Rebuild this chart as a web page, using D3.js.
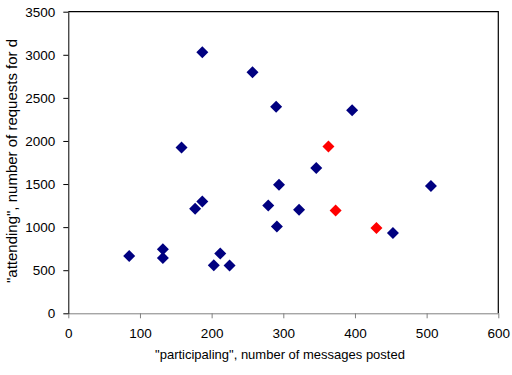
<!DOCTYPE html>
<html><head><meta charset="utf-8">
<script src="https://cdn.jsdelivr.net/npm/d3@7"></script>
<style>body{margin:0;background:#fff}svg{display:block}text{font-family:"Liberation Sans",Arial,sans-serif}</style>
</head><body><svg id="c" width="512" height="375"></svg>
<script>
const blueX = [85,132,132,177,187,203,212,225,187,158,257,290,396,346,294,506,279,322,291,453];
const blueY = [665,742,642,1212,1297,558,693,554,3029,1924,2798,2397,2356,1686,1493,1478,1250,1201,1008,931];
const redX = [363,373,430];
const redY = [1935,1193,989];
const xTicks = [0,100,200,300,400,500,600];
const yTicks = [0,500,1000,1500,2000,2500,3000,3500];
const xTitle = '"participaling", number of messages posted';
const yTitle = '"attending", number of requests for d';

const svg = d3.select("#c");
const x = d3.scaleLinear().domain([0,600]).range([68.3,498.3]);
const y = d3.scaleLinear().domain([0,3500]).range([313.3,11.7]);

// frame top/right
svg.append("path").attr("d",`M${x(0)},${y(3500)}H${x(600)}V${y(0)}`).attr("fill","none").attr("stroke","#000").attr("stroke-width",1.2);

const gx = svg.append("g").attr("transform",`translate(0,${y(0)})`)
  .call(d3.axisBottom(x).tickValues(xTicks).tickFormat(d3.format("d")).tickSize(5).tickPadding(10).tickSizeOuter(0));
gx.select(".domain").attr("stroke","#808080");
gx.selectAll(".tick line").attr("stroke","#808080");
gx.selectAll("text").attr("font-size",13.5).attr("fill","#000");

const gy = svg.append("g").attr("transform",`translate(${x(0)},0)`)
  .call(d3.axisLeft(y).tickValues(yTicks).tickFormat(d3.format("d")).tickSize(5).tickPadding(8).tickSizeOuter(0));
gy.select(".domain").attr("stroke","#000");
gy.selectAll(".tick line").attr("stroke","#000");
gy.selectAll("text").attr("font-size",13.5).attr("fill","#000");

svg.append("text").attr("x",280).attr("y",359).attr("text-anchor","middle").attr("font-size",13).text(xTitle);
svg.append("text").attr("transform","translate(17,283) rotate(-90)").attr("text-anchor","start").attr("font-size",15).text(yTitle);

const diamond = "M0,-6L6,0L0,6L-6,0Z";
svg.append("g").selectAll("path").data(d3.range(blueX.length)).join("path")
  .attr("d",diamond).attr("fill","#000080")
  .attr("transform",i=>`translate(${x(blueX[i])},${y(blueY[i])})`);
svg.append("g").selectAll("path").data(d3.range(redX.length)).join("path")
  .attr("d",diamond).attr("fill","#ff0000")
  .attr("transform",i=>`translate(${x(redX[i])},${y(redY[i])})`);
</script></body></html>
